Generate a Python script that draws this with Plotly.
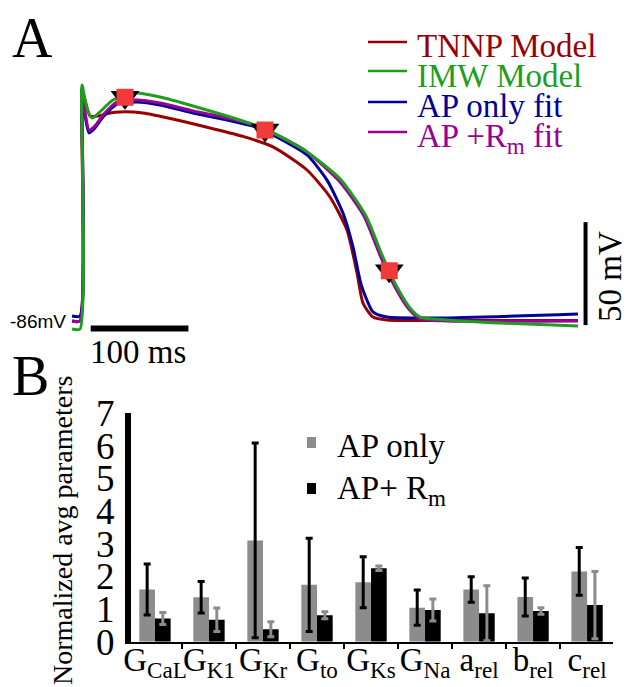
import plotly.graph_objects as go

# ---------------- Panel A data: action potentials (time in ms, Vm in mV) ----------------
tnnp_t = [-10.2, -2, 0, 3.1, 8.2, 16.4, 28.7, 38.9, 62.4, 97.2, 131, 164.8, 195.5, 230.3,
          253.8, 271.2, 281.5, 287.6, 297.9, 312.2, 376.7, 507.7]
tnnp_v = [-86, -86, 26.1, 21.3, 13.5, 13.5, 15.0, 15.5, 15.0, 11.6, 7.7, 3.6, -1.5, -12.7,
          -25.8, -41.8, -62.7, -77.3, -84.1, -85.5, -85.8, -85.8]

imw_t = [-10.2, -2, 0, 4.1, 10.2, 18.4, 31.7, 56.3, 79.8, 113.6, 148.4, 182.2, 195.5, 230.3,
         264.1, 290.7, 307.1, 322.4, 335.7, 346.0, 373.6, 427.8, 507.7]
imw_v = [-89.9, -89.9, 28.6, 18.9, 12.5, 15.5, 21.3, 24.7, 22.7, 18.4, 13.5, 8.2, 5.3, -3.9,
         -17.0, -35.0, -54.0, -69.5, -79.7, -84.1, -85.5, -87.0, -88.4]

aponly_t = [-10.2, -2, 0, 3.1, 7.2, 13.3, 21.5, 35.8, 56.3, 79.8, 113.6, 148.4, 182.2, 195.5,
            230.3, 250.8, 267.1, 277.4, 284.5, 287.6, 297.9, 312.2, 366.4, 507.7]
aponly_v = [-83.6, -83.6, 26.1, 14.0, 5.3, 7.7, 13.0, 19.3, 20.3, 18.9, 15.0, 11.6, 7.7, 4.3,
            -5.4, -17.6, -33.6, -50.1, -66.1, -71.0, -81.6, -84.1, -84.5, -82.6]

aprm_t = [-10.2, -2, 0, 3.1, 7.2, 13.3, 21.5, 35.8, 56.3, 79.8, 113.6, 148.4, 182.2, 195.5,
          230.3, 264.1, 288.6, 305.0, 320.4, 333.7, 346.0, 373.6, 507.7]
aprm_v = [-86, -86, 27.1, 15.5, 6.7, 8.7, 14.0, 20.3, 21.3, 19.8, 16.0, 12.5, 8.2, 5.3,
          -3.9, -18.5, -35.0, -54.0, -69.5, -79.7, -85.0, -86.0, -86.0]

target_t = [44.0, 187.3, 314.5]
target_v = [22.6, 6.7, -61.6]

# ---------------- Panel B data: normalized average parameters ----------------
params = ["G<sub>CaL</sub>", "G<sub>K1</sub>", "G<sub>Kr</sub>", "G<sub>to</sub>", "G<sub>Ks</sub>",
          "G<sub>Na</sub>", "a<sub>rel</sub>", "b<sub>rel</sub>", "c<sub>rel</sub>"]
ap_only = [1.6, 1.36, 3.1, 1.74, 1.82, 1.04, 1.6, 1.37, 2.15]
ap_only_err = [0.78, 0.48, 2.98, 1.43, 0.78, 0.54, 0.39, 0.58, 0.73]
ap_rm = [0.71, 0.67, 0.38, 0.81, 2.25, 0.97, 0.87, 0.94, 1.12]
ap_rm_err = [0.18, 0.36, 0.23, 0.11, 0.07, 0.34, 0.84, 0.10, 1.03]
y_ticks = [0, 1, 2, 3, 4, 5, 6, 7]

SERIF = "Liberation Serif, Times New Roman, serif"
W, H = 630, 687
OFF = 8  # page body margin offsets the figure on screen


def px(x):
    return (x - OFF) / W


def py(y):
    return 1 - (y - OFF) / H


RED, GREEN, BLUE, PURPLE = "#990000", "#1e9e1e", "#000099", "#990099"

fig = go.Figure()
for t, v, c in [(tnnp_t, tnnp_v, RED), (aponly_t, aponly_v, BLUE),
                (aprm_t, aprm_v, PURPLE), (imw_t, imw_v, GREEN)]:
    fig.add_trace(go.Scatter(x=t, y=v, mode="lines", line=dict(color=c, width=3, shape="spline", smoothing=0.6),
                             xaxis="x", yaxis="y", showlegend=False, hoverinfo="skip"))
fig.add_trace(go.Scatter(x=target_t, y=target_v, mode="markers",
                         marker=dict(symbol="triangle-down", size=25, color="black"),
                         xaxis="x", yaxis="y", showlegend=False))
fig.add_trace(go.Scatter(x=target_t, y=target_v, mode="markers",
                         marker=dict(symbol="square", size=17, color="#f23a3a"),
                         xaxis="x", yaxis="y", showlegend=False))

xs = list(range(len(params)))
fig.add_trace(go.Bar(x=xs, y=ap_only, marker=dict(color="#8c8c8c", line=dict(width=0)),
                     error_y=dict(type="data", array=ap_only_err, color="black", thickness=3, width=3.5),
                     xaxis="x2", yaxis="y2", showlegend=False))
fig.add_trace(go.Bar(x=xs, y=ap_rm, marker=dict(color="black", line=dict(width=0)),
                     error_y=dict(type="data", array=ap_rm_err, color="#8c8c8c", thickness=3, width=3.5),
                     xaxis="x2", yaxis="y2", showlegend=False))

shapes = [
    # scale bars (data coords of panel A)
    dict(type="line", xref="x", yref="y", x0=515.4, x1=515.4, y0=-88, y1=-38, line=dict(color="black", width=4)),
    dict(type="line", xref="x", yref="y", x0=8.9, x1=108.9, y0=-89.6, y1=-89.6, line=dict(color="black", width=6)),
]
# legend A line samples
for yy, c in [(42, RED), (71, GREEN), (102, BLUE), (132, PURPLE)]:
    shapes.append(dict(type="line", xref="paper", yref="paper", x0=px(368), x1=px(407), y0=py(yy), y1=py(yy),
                       line=dict(color=c, width=2.5)))
# legend B squares
for y0, c in [(437, "#8c8c8c"), (483, "black")]:
    shapes.append(dict(type="rect", xref="paper", yref="paper", x0=px(307), x1=px(316), y0=py(y0), y1=py(y0 + 11),
                       fillcolor=c, line=dict(width=0)))

ann = []


def text(t, x, y, size, color="black", xanchor="left", angle=0, family=SERIF):
    ann.append(dict(text=t, x=px(x), y=py(y), xref="paper", yref="paper", showarrow=False,
                    xanchor=xanchor, yanchor="middle", textangle=angle,
                    font=dict(family=family, size=size, color=color)))


text("A", 10, 38, 56)
text("B", 10, 376, 56)
text("TNNP Model", 415, 46, 33, RED)
text("IMW Model", 415, 76, 33, GREEN)
text("AP only fit", 415, 106, 33, BLUE)
text("AP +R<sub>m</sub> fit", 415, 138, 33, PURPLE)
text("-86mV", 68, 321, 19, family="Liberation Sans, Arial, sans-serif", xanchor="right")
text("100 ms", 138, 352, 33, xanchor="center")
text("50 mV", 610, 277, 33, xanchor="center", angle=-90)
text("Normalized avg parameters", 62, 531, 28, xanchor="center", angle=-90)
text("AP only", 335, 446, 33)
text("AP+ R<sub>m</sub>", 335, 490, 33)

# panel A axis ranges so that the traces land on the right screen pixels
t_per_px = 1 / 0.977
mv_per_px = 1 / 2.06
xa_range = [(OFF - 82) * t_per_px, (OFF + W - 82) * t_per_px]
ya_range = [-86 - (OFF + H - 321) * mv_per_px, -86 + (321 - OFF) * mv_per_px]

fig.update_layout(
    width=W, height=H, margin=dict(l=0, r=0, t=0, b=0, pad=0),
    paper_bgcolor="white", plot_bgcolor="rgba(0,0,0,0)",
    barmode="group", bargap=0.42, bargroupgap=0,
    xaxis=dict(domain=[0, 1], range=xa_range, visible=False, fixedrange=True, automargin=False),
    yaxis=dict(domain=[0, 1], range=ya_range, visible=False, fixedrange=True, automargin=False),
    xaxis2=dict(domain=[px(131), px(613)], anchor="y2", range=[-0.444, 8.48], automargin=False,
                tickmode="array", tickvals=xs, ticktext=params, tickangle=0,
                showline=True, linecolor="black", linewidth=2, ticks="",
                minor=dict(tickmode="linear", tick0=0.5, dtick=1, ticks="outside", ticklen=5,
                           tickcolor="black", tickwidth=1.5),
                tickfont=dict(family=SERIF, size=33, color="black"),
                showgrid=False, zeroline=False, ticklabelstandoff=-12),
    yaxis2=dict(domain=[py(641.7), py(413)], anchor="x2", range=[0, 7], automargin=False,
                tickmode="array", tickvals=y_ticks,
                showline=True, linecolor="black", linewidth=6, ticks="",
                tickfont=dict(family=SERIF, size=37, color="black"),
                showgrid=False, zeroline=False, ticklabelstandoff=3),
    shapes=shapes, annotations=ann,
)

fig.write_html("out.html")
